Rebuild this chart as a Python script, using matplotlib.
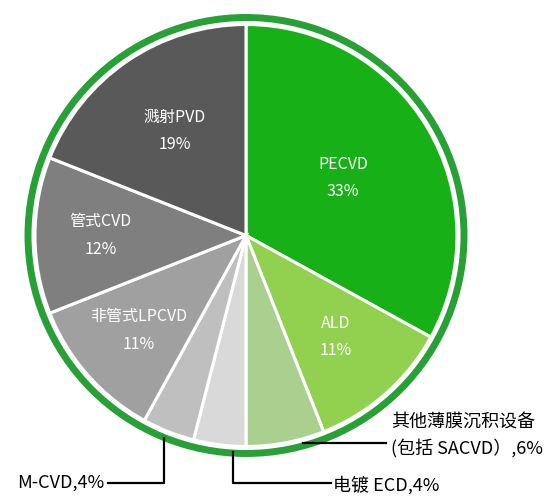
import numpy as np
import matplotlib.pyplot as plt

plt.rcParams['font.family'] = ['Noto Sans CJK SC', 'DejaVu Sans']

# data, clockwise from 12 o'clock
names = ['PECVD', 'ALD', '其他薄膜沉积设备\n(包括 SACVD）', '电镀 ECD', 'M-CVD',
         '非管式LPCVD', '管式CVD', '溅射PVD']
shares = [33, 11, 6, 4, 4, 11, 12, 19]
colors = ['#17b117', '#92d050', '#a9d08e', '#d9d9d9', '#bfbfbf',
          '#a0a0a0', '#7f7f7f', '#595959']
inside = [True, True, False, False, False, True, True, True]

fig = plt.figure(figsize=(5.5, 4.98), dpi=100)
ax = fig.add_axes([0, 0, 1, 1])

cx, cy, R = 246, 262.5, 211
wedges, _ = ax.pie(shares, colors=colors, startangle=90, counterclock=False,
                   center=(cx, cy), radius=R, frame=True,
                   wedgeprops=dict(edgecolor='white', linewidth=2.2))
ax.set_xlim(0, 550)
ax.set_ylim(0, 498)
ax.axis('off')

# green outer ring
ring = plt.Circle((cx, cy), 218, fill=False, edgecolor='#27a035', linewidth=5)
ax.add_patch(ring)

# labels inside the slices
rfrac = [0.535, 0.64, 0, 0, 0, 0.68, 0.69, 0.60]
for w, n, s, ins, rf in zip(wedges, names, shares, inside, rfrac):
    if not ins:
        continue
    mid = np.deg2rad((w.theta1 + w.theta2) / 2)
    x = cx + rf * R * np.cos(mid)
    y = cy + rf * R * np.sin(mid)
    ax.text(x, y, f'{n}\n{s}%', ha='center', va='center', color='white',
            fontsize=11.5, linespacing=1.8)

# leader lines + outside labels
lw = 1.6
# 其他薄膜沉积设备
ax.plot([303, 386], [55, 55], color='black', lw=lw)
ax.text(391, 62, f'{names[2]},{shares[2]}%', ha='left', va='center',
        fontsize=13, linespacing=1.55)
# 电镀 ECD
ax.plot([233, 233, 331], [46, 15, 15], color='black', lw=lw)
ax.text(333, 13, f'{names[3]},{shares[3]}%', ha='left', va='center', fontsize=13)
# M-CVD
ax.plot([164, 164, 108], [60, 15, 15], color='black', lw=lw)
ax.text(104, 15, f'{names[4]},{shares[4]}%', ha='right', va='center', fontsize=13)

plt.savefig('out.png', dpi=100)
